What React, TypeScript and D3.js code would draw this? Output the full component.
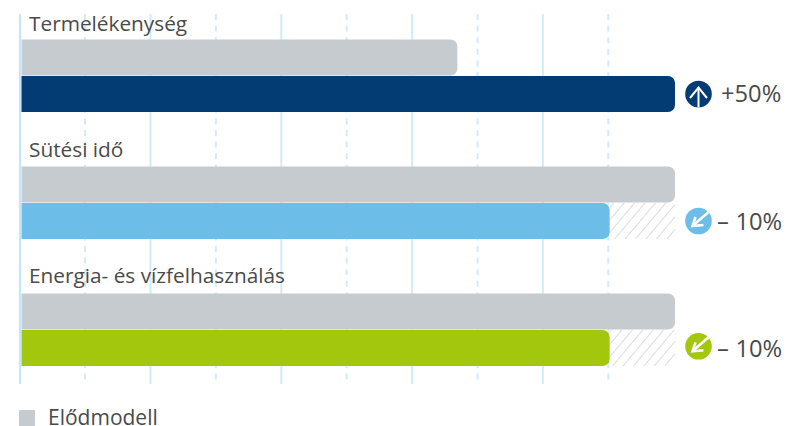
import React from "react";
import * as d3 from "d3";

const categories = ["Termelékenység", "Sütési idő", "Energia- és vízfelhasználás"];
const baseValues = [66.7, 100, 100];
const newValues = [100, 90, 90];
const colors = ["#033b73", "#6cbde8", "#a3c70d"];
const changeSigns = ["+", "–", "–"];
const changeValues = ["50%", "10%", "10%"];
const directions = ["up", "down", "down"];
const gridTicks = [10, 20, 30, 40, 50, 60, 70, 80, 90];
const legendLabel = "Elődmodell";

const W = 788, H = 426;
const FONT = "'Open Sans','Noto Sans',sans-serif";
const TXT = "#4a4a4a";

const x = d3.scaleLinear().domain([0, 100]).range([21.5, 675]);
const gridX = d3.scaleLinear().domain([0, 100]).range([19.7, 673.7]);
const band = d3.scaleBand<number>().domain([0, 1, 2]).range([14, 395]).padding(0);

const iconCy = [94, 221, 346.3];
const labelBase = [102, 230, 357];

function rr(x0: number, y: number, x1: number, h: number, r: number) {
  const p = d3.path();
  p.moveTo(x0, y);
  p.lineTo(x1 - r, y);
  p.arcTo(x1, y, x1, y + r, r);
  p.lineTo(x1, y + h - r);
  p.arcTo(x1, y + h, x1 - r, y + h, r);
  p.lineTo(x0, y + h);
  p.closePath();
  return p.toString();
}

export default function App() {
  return (
    <svg width={W} height={H} style={{ position: "absolute", left: 0, top: 0, background: "#fff" }} fontFamily={FONT}>
      <defs>
        <pattern id="hatch" width="8" height="8" patternUnits="userSpaceOnUse" patternTransform="rotate(40)">
          <rect width="8" height="8" fill="#fff" />
          <line x1="0" y1="0" x2="0" y2="8" stroke="#d9dcdf" strokeWidth="2" />
        </pattern>
      </defs>
      {gridTicks.map((t, i) => (
        <line key={t} x1={gridX(t)} x2={gridX(t)} y1={14} y2={i % 2 === 0 ? 382 : 384} stroke="#d2ebfb" strokeWidth={2}
          strokeDasharray={i % 2 === 0 ? "6 5.6" : undefined} />
      ))}
      <line x1={20} x2={20} y1={14} y2={384} stroke="#c4e6fb" strokeWidth={2.2} />
      {categories.map((c, i) => {
        const top = band(i)!;
        const gy = top + 25.5, h1 = 36, ny = top + 62, h2 = 36;
        const cy = iconCy[i];
        return (
          <g key={c}>
            <text x={29} y={top + 17 - i} fontSize={20.8} fill={TXT}>{c}</text>
            {newValues[i] < baseValues[i] && (
              <rect x={x(newValues[i])} y={ny} width={x(baseValues[i]) - x(newValues[i])} height={h2} fill="url(#hatch)" />
            )}
            <path d={rr(x(0), gy, x(baseValues[i]), h1, 7)} fill="#c6cbcf" />
            <path d={rr(x(0), ny, x(newValues[i]), h2, 7)} fill={colors[i]} />
            <circle cx={698.5} cy={cy} r={13.3} fill={colors[i]} />
            {directions[i] === "up" ? (
              <g transform={`translate(698.5,${cy})`} stroke="#fff" strokeWidth={2} fill="none">
                <path d="M0,13 L0,-6.5" />
                <path d="M-8.5,4 L0,-6.5 L8.5,4" />
              </g>
            ) : (
              <g transform={`translate(698.5,${cy})`} stroke="#fff" strokeWidth={2.6} fill="none">
                <path d="M-6,5 L10,-9" />
                <path d="M-3,-4 L-6,5 L5,4" />
              </g>
            )}
            {i === 0 ? (
              <text x={721} y={labelBase[i]} fontSize={23.7} fill={TXT}>{changeSigns[i] + changeValues[i]}</text>
            ) : (
              <>
                <text x={717} y={labelBase[i]} fontSize={23.7} fill={TXT}>{changeSigns[i]}</text>
                <text x={735.5} y={labelBase[i]} fontSize={23.7} fill={TXT}>{changeValues[i]}</text>
              </>
            )}
          </g>
        );
      })}
      <rect x={19} y={410} width={16} height={16} fill="#c6cbcf" />
      <text x={48} y={425} fontSize={21} fill={TXT}>{legendLabel}</text>
    </svg>
  );
}
